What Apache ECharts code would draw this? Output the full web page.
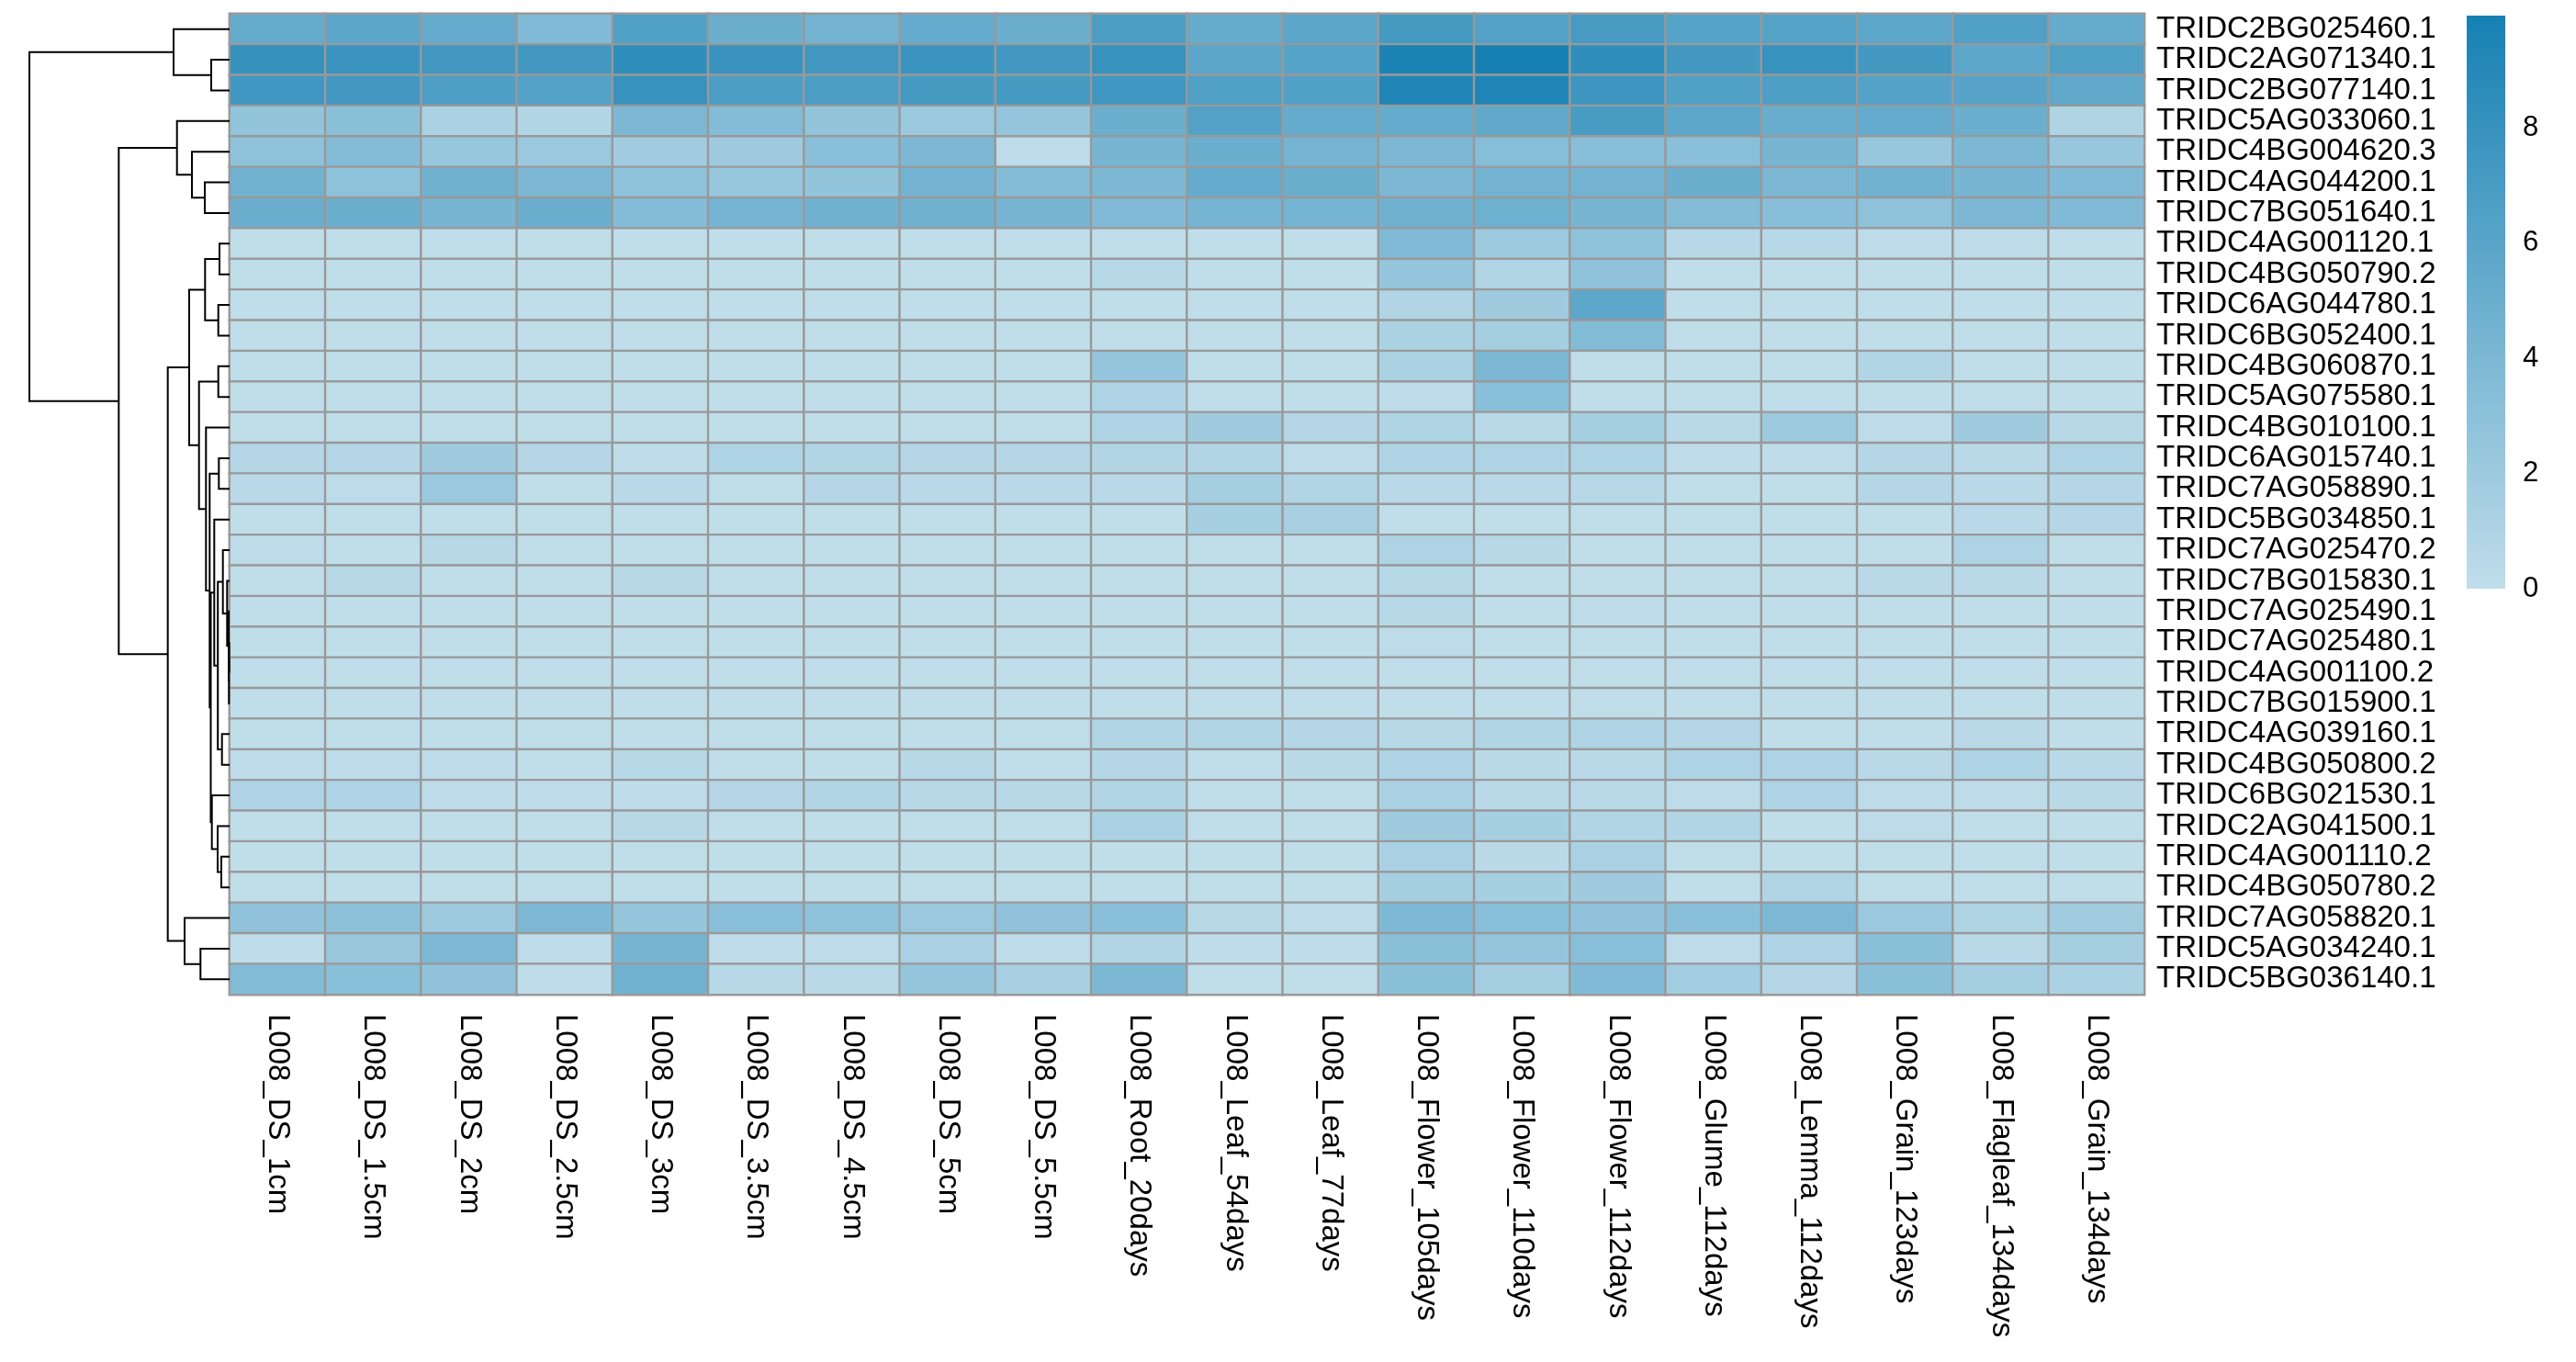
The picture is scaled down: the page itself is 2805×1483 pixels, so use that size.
<!DOCTYPE html>
<html><head><meta charset="utf-8">
<script src="https://cdn.jsdelivr.net/npm/echarts@6/dist/echarts.min.js"></script>
<style>html,body{margin:0;padding:0;background:#fff}#c{width:2805px;height:1483px}</style>
</head><body><div id="c"></div>
<script>
const genes = ['TRIDC2BG025460.1','TRIDC2AG071340.1','TRIDC2BG077140.1','TRIDC5AG033060.1','TRIDC4BG004620.3','TRIDC4AG044200.1','TRIDC7BG051640.1','TRIDC4AG001120.1','TRIDC4BG050790.2','TRIDC6AG044780.1','TRIDC6BG052400.1','TRIDC4BG060870.1','TRIDC5AG075580.1','TRIDC4BG010100.1','TRIDC6AG015740.1','TRIDC7AG058890.1','TRIDC5BG034850.1','TRIDC7AG025470.2','TRIDC7BG015830.1','TRIDC7AG025490.1','TRIDC7AG025480.1','TRIDC4AG001100.2','TRIDC7BG015900.1','TRIDC4AG039160.1','TRIDC4BG050800.2','TRIDC6BG021530.1','TRIDC2AG041500.1','TRIDC4AG001110.2','TRIDC4BG050780.2','TRIDC7AG058820.1','TRIDC5AG034240.1','TRIDC5BG036140.1'];
const samples = ['L008_DS_1cm','L008_DS_1.5cm','L008_DS_2cm','L008_DS_2.5cm','L008_DS_3cm','L008_DS_3.5cm','L008_DS_4.5cm','L008_DS_5cm','L008_DS_5.5cm','L008_Root_20days','L008_Leaf_54days','L008_Leaf_77days','L008_Flower_105days','L008_Flower_110days','L008_Flower_112days','L008_Glume_112days','L008_Lemma_112days','L008_Grain_123days','L008_Flagleaf_134days','L008_Grain_134days'];

const r01 = [5.4,5.9,5.3,3.7,6.5,5.0,4.5,5.3,5.0,6.8,5.4,5.9,7.2,6.4,7.1,6.2,6.2,5.8,6.5,5.4];
const r02 = [8.1,7.8,7.4,7.4,8.4,7.9,7.4,7.8,7.4,8.0,5.9,6.2,9.6,9.95,8.4,7.3,8.0,7.3,5.8,6.5];
const r03 = [7.5,7.3,6.6,6.4,8.0,6.8,6.8,7.2,7.2,7.5,6.5,6.5,9.3,9.4,7.6,6.5,6.7,6.3,6.1,5.7];
const r04 = [2.7,3.1,1.2,0.8,4.0,3.5,2.7,2.2,2.6,5.0,6.4,5.3,5.3,5.6,7.0,5.8,5.1,5.3,5.0,1.0];
const r05 = [2.9,3.5,2.4,2.2,1.8,1.9,3.2,4.0,0.2,4.3,5.0,4.4,4.0,3.4,3.3,3.2,4.3,2.4,4.0,2.4];
const r06 = [4.6,2.9,4.7,4.0,2.9,2.4,2.7,4.5,3.5,4.0,5.3,5.0,4.0,4.5,4.5,5.0,4.0,4.6,4.3,3.7];
const r07 = [5.0,5.0,4.3,5.0,3.5,4.4,4.7,4.7,4.3,3.7,4.4,4.4,4.7,4.8,4.3,3.5,3.3,2.9,4.0,3.7];
const r08 = [0,0,0,0,0,0,0,0,0,0,0,0,3.7,2.0,2.9,0.5,0.5,0.2,0.2,0];
const r09 = [0,0,0,0,0,0,0,0,0,0.5,0,0,2.6,0.9,2.8,0,0,0,0,0];
const r10 = [0,0,0,0,0,0,0,0,0,0,0,0,0.9,1.9,5.8,0,0,0,0,0];
const r11 = [0,0,0,0,0,0,0,0,0,0,0,0,1.2,1.6,3.6,0,0,0,0,0];
const r12 = [0,0,0,0,0,0,0,0,0,2.6,0,0,1.2,4.0,0,0,0,0.9,0,0];
const r13 = [0,0,0,0,0,0,0,0,0,1.1,0,0,0.2,3.2,0,0,0,0,0,0];
const r14 = [0,0,0,0,0,0,0,0,0,1.1,1.9,0.7,1.0,0.4,1.5,0.4,2.0,0.2,1.9,0.5];
const r15 = [0.7,0.7,1.9,0.7,0.1,1.1,0.9,0.7,0.7,0.9,0.9,0.2,1.1,1.1,1.1,0.1,0.1,0.7,0.4,1.1];
const r16 = [0.4,0.2,2.2,0,0.4,0,0.7,0.4,0.4,0.4,1.6,0.9,0.4,0.4,0.5,0,0,0.7,0.4,0.7];
const r17 = [0,0,0,0,0,0,0,0,0,0,1.5,1.4,0,0,0,0,0,0,0.4,0.7];
const r18 = [0.2,0,0.5,0,0,0,0,0,0,0,0,0,1.1,0.5,0,0,0,0,1.1,0];
const r19 = [0,0.5,0,0,0.5,0,0,0,0,0,0,0,0.5,0,0,0,0,0.4,0.4,0];
const r20 = [0,0,0,0,0,0,0,0,0,0,0,0,0.5,0,0.2,0,0,0,0,0];
const r21 = [0,0,0,0,0,0,0,0,0,0,0,0,0.2,0,0,0,0,0,0,0];
const r22 = [0,0,0,0,0,0,0,0,0,0,0,0,0,0,0,0,0,0,0,0];
const r23 = [0,0,0,0,0,0,0,0,0,0,0,0,0,0,0,0,0,0,0,0];
const r24 = [0,0,0,0,0,0,0,0,0,0.9,0.9,0.7,0.5,0.9,1.1,0.7,0,0,0.4,0];
const r25 = [0.2,0.2,0.2,0,0.5,0,0,0.5,0,0.7,0,0.35,1.1,0.3,0.4,1.1,1.1,0.4,1.1,0.4];
const r26 = [1.1,1.1,0.1,0.1,0.1,0.7,0.9,0.5,0.5,0.9,0,0,1.3,0.4,0.4,0.2,1.1,0.2,0.2,0.4];
const r27 = [0,0,0,0,0.5,0,0,0,0,1.3,0,0,1.9,1.5,0.9,0.9,0,0.2,0,0];
const r28 = [0,0,0,0,0,0,0,0,0,0,0,0,1.3,0.3,1.3,0,0,0,0,0];
const r29 = [0,0,0,0,0,0,0,0,0,0,0,0,1.5,1.5,1.9,0,0.9,0,0,0];
const r30 = [2.8,3.0,2.0,3.9,2.6,3.2,2.9,2.2,2.8,3.2,0.5,0.2,3.9,3.2,2.8,3.2,3.9,2.2,1.0,1.8];
const r31 = [0.1,2.3,3.9,0.1,4.3,0.1,0.2,1.3,0.1,0.9,0.1,0.1,3.1,2.6,3.2,0.2,1.1,3.1,0.4,1.6];
const r32 = [3.6,3.2,2.8,0.1,4.6,0.5,0.4,2.6,1.4,4.0,0,0,3.1,1.6,3.7,1.7,0.7,3.1,1.6,1.2];
const matrixRows = [r01,r02,r03,r04,r05,r06,r07,r08,r09,r10,r11,r12,r13,r14,r15,r16,r17,r18,r19,r20,r21,r22,r23,r24,r25,r26,r27,r28,r29,r30,r31,r32];

// row dendrogram: [left, right, height]; negative = leaf (row position), positive = earlier merge (1-based)
const dendroMerges = [
  [-21,-22,0.04],[1,-23,0.07],[-20,2,0.10],[-19,3,0.27],[-18,4,0.73],
  [-24,-25,0.83],[-28,-29,0.90],[-8,-9,1.10],[-15,-16,1.17],[-10,-11,1.23],
  [-12,-13,1.23],[5,6,1.28],[-27,7,1.30],[-17,12,1.67],[-26,13,1.93],
  [-2,-3,2.00],[14,15,2.05],[9,17,2.17],[-14,18,2.57],[8,10,2.67],
  [-6,-7,2.70],[-31,-32,3.17],[11,19,3.33],[-5,21,4.10],[20,23,4.40],
  [-30,22,4.90],[-4,24,5.73],[-1,16,6.10],[25,26,6.73],[27,29,12.07],[28,30,21.80]
];
const legendTicks = [0,2,4,6,8];
const lowColor = '#c0ddea', highColor = '#1680b3';

const heatData = [];
matrixRows.forEach((row, ri) => row.forEach((v, ci) => heatData.push([ci, ri, v])));
const vMax = Math.max(...heatData.map(d => d[2]));

const nodeY = [], nodeH = [];
const dendroLines = [];
function pos(ref){ return ref < 0 ? [0, -ref - 0.5] : [nodeH[ref-1], nodeY[ref-1]]; }
dendroMerges.forEach((m) => {
  const a = pos(m[0]), b = pos(m[1]), h = m[2];
  dendroLines.push({coords: [[a[0], a[1]], [h, a[1]], [h, b[1]], [b[0], b[1]]]});
  nodeY.push((a[1] + b[1]) / 2); nodeH.push(h);
});
const rootH = dendroMerges[dendroMerges.length-1][2];

const FONT = '"Liberation Sans", Arial, sans-serif';
const chart = echarts.init(document.getElementById('c'));
chart.setOption({
  backgroundColor: '#fff',
  animation: false,
  grid: [
    {left: 250, right: 470, top: 15, bottom: 400, containLabel: false, outerBoundsMode: 'none'},
    {left: 32, right: 2555, top: 15, bottom: 400, containLabel: false, outerBoundsMode: 'none'},
    {left: 2686, width: 42, top: 17, height: 624, containLabel: false, outerBoundsMode: 'none'}
  ],
  xAxis: [
    {type: 'category', gridIndex: 0, data: samples, position: 'bottom',
     axisLine: {show: false}, axisTick: {show: false}, splitLine: {show: false},
     axisLabel: {rotate: -90, interval: 0, margin: 21, fontSize: 33, color: '#000', fontFamily: FONT}},
    {type: 'value', gridIndex: 1, min: 0, max: rootH, inverse: true, show: false},
    {type: 'category', gridIndex: 2, data: ['scale'], show: false}
  ],
  yAxis: [
    {type: 'category', gridIndex: 0, data: genes, inverse: true, position: 'right',
     axisLine: {show: false}, axisTick: {show: false}, splitLine: {show: false},
     axisLabel: {interval: 0, margin: 13, fontSize: 33, color: '#000', fontFamily: FONT}},
    {type: 'value', gridIndex: 1, min: 0, max: genes.length, inverse: true, show: false},
    {type: 'value', gridIndex: 2, min: 0, max: vMax, interval: 2, position: 'right',
     axisLine: {show: false}, axisTick: {show: false}, splitLine: {show: false},
     axisLabel: {showMaxLabel: false, margin: 19, fontSize: 31, color: '#000', fontFamily: FONT,
       formatter: v => legendTicks.includes(v) ? String(v) : ''}}
  ],
  visualMap: {show: false, type: 'continuous', min: 0, max: vMax, seriesIndex: 0,
    inRange: {color: [lowColor, highColor]}},
  series: [
    {type: 'heatmap', xAxisIndex: 0, yAxisIndex: 0, data: heatData,
     itemStyle: {borderColor: '#999999', borderWidth: 2.4}, emphasis: {disabled: true}},
    {type: 'lines', coordinateSystem: 'cartesian2d', xAxisIndex: 1, yAxisIndex: 1, polyline: true,
     data: dendroLines, silent: true,
     lineStyle: {color: '#000', width: 2, opacity: 1, curveness: 0}},
    {type: 'bar', xAxisIndex: 2, yAxisIndex: 2, data: [vMax], barWidth: '100%', silent: true,
     itemStyle: {color: new echarts.graphic.LinearGradient(0, 0, 0, 1, [
       {offset: 0, color: highColor}, {offset: 1, color: lowColor}])}}
  ]
});
</script></body></html>
